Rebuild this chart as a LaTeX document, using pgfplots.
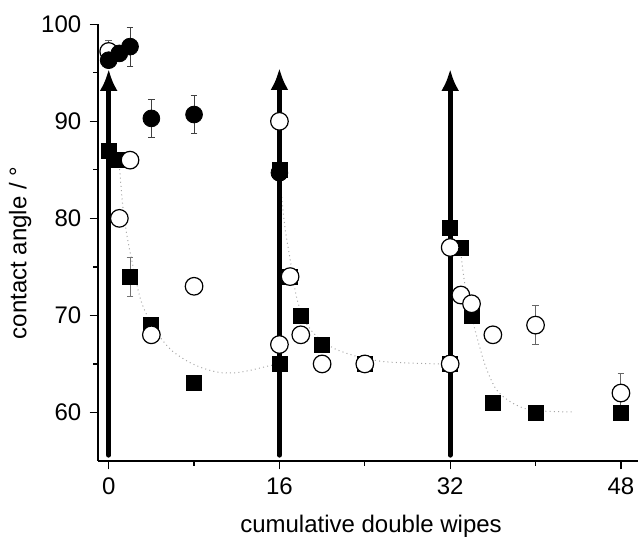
\documentclass[border=0pt]{standalone}
\usepackage{fontspec}
\setmainfont{Liberation Sans}
\usepackage{pgfplots}
\usepackage{pgfplotstable}
\pgfplotsset{compat=1.18}
\usetikzlibrary{arrows.meta}

\pgfplotstableread{
x y e
0 87 0
1 86 0
2 74 2
4 69 0
8 63 0
16 65 0
16 85 0
17 74 0
18 70 0
20 67 0
24 65 0
32 65 0
32 79 0
33 77 0
34 70 0
36 61 0
40 60 0
48 60 0
}\squares

\pgfplotstableread{
x y e
0 97.2 1.1
1 80 0
2 86 0
4 68 0
8 73 0
16 67 0
16 90 0
17 74 0
18 68 0
20 65 0
24 65 0
32 65 0
32 77 0
33 72.1 0
34 71.2 0
36 68 0
40 69 2
48 62 2
}\opencirc

\pgfplotstableread{
x y e
0 96.3 0
1 97.0 0
2 97.7 2
4 90.3 2
8 90.7 2
16 84.7 0
}\filledcirc

\begin{document}
\fontsize{12}{14.4}\selectfont
\begin{tikzpicture}
\begin{axis}[
  scale only axis,
  width=270pt, height=218.35pt,
  xmin=-1, xmax=49.6, ymin=55, ymax=100,
  axis x line*=bottom, axis y line*=left,
  axis line style={line width=0.65pt},
  tick align=outside,
  major tick length=4.2pt, minor tick length=2.3pt,
  every tick/.style={line width=0.65pt, black},
  xtick={0,16,32,48}, minor xtick={8,24,40},
  ytick={60,70,80,90,100}, minor ytick={65,75,85,95},
  /pgf/number format/assume math mode=true,
  tick label style={font=\fontsize{12}{14.4}\selectfont},
  label style={font=\fontsize{12}{14.4}\selectfont},
  xlabel={cumulative double wipes},
  ylabel={contact angle / °},
  every axis x label/.style={at={(rel axis cs:0.5056,-0.150)},anchor=center},
  every axis y label/.style={at={(rel axis cs:-0.144,0.476)},anchor=center,rotate=90},
  clip=false,
]
% fit curves
\addplot[gray!70, line width=0.5pt, dash pattern=on 0.5pt off 1.6pt, smooth] coordinates {
 (1,85.5) (1.3,81.5) (1.7,78.3) (2.2,75.5) (3,71.6) (4,69.1) (5,67.5) (6,66.3) (7.5,65.2) (9,64.5) (10.5,64.1) (12,64.1) (13.5,64.4) (15,64.8) (16,65)};
\addplot[gray!70, line width=0.5pt, dash pattern=on 0.5pt off 1.6pt, smooth] coordinates {
 (16.1,83.5) (16.5,79.2) (17,75.8) (17.6,71.9) (18.3,69.6) (19.1,68.3) (20,67.4) (21.3,66.5) (23.5,65.7) (25.7,65.25) (28,65.1) (31,65.0) (32,65)};
\addplot[gray!70, line width=0.5pt, dash pattern=on 0.5pt off 1.6pt, smooth] coordinates {
 (33.05,76) (33.4,73) (33.9,70.5) (34.4,68.2) (35.3,64.8) (36.3,62.4) (37.5,61.2) (39,60.4) (41,60.12) (43.5,60.05)};
% squares
\addplot[only marks, mark=square*, mark size=3.75pt, black,
  error bars/.cd, y dir=both, y explicit,
  error bar style={line width=0.5pt, black!55},
  error mark options={rotate=90, mark size=1.7pt, line width=0.5pt, black!55}]
  table[x=x, y=y, y error=e]{\squares};
% open circles
\addplot[only marks, mark=*, mark size=4.4pt, mark options={fill=white, draw=black, line width=0.6pt},
  error bars/.cd, y dir=both, y explicit,
  error bar style={line width=0.5pt, black!60},
  error mark options={rotate=90, mark size=1.7pt, line width=0.5pt, black!60}]
  table[x=x, y=y, y error=e]{\opencirc};
% filled circles
\addplot[only marks, mark=*, mark size=4.2pt, black,
  error bars/.cd, y dir=both, y explicit,
  error bar style={line width=0.5pt, black!75},
  error mark options={rotate=90, mark size=1.7pt, line width=0.5pt, black!75}]
  table[x=x, y=y, y error=e]{\filledcirc};
% arrows
\addplot[black, line width=2.5pt, line cap=round, -{Latex[length=11pt,width=9pt]}] coordinates {(0,55.6) (0,95.4)};
\addplot[black, line width=2.5pt, line cap=round, -{Latex[length=11pt,width=9pt]}] coordinates {(16,55.6) (16,95.5)};
\addplot[black, line width=2.5pt, line cap=round, -{Latex[length=11pt,width=9pt]}] coordinates {(32,55.6) (32,95.4)};
\coordinate (bbl) at (rel axis cs:-0.1815,-0.1763);
\coordinate (btr) at (rel axis cs:1.0037,1.0556);
\end{axis}
\pgfresetboundingbox
\path[use as bounding box] (bbl) rectangle (btr);
\end{tikzpicture}
\end{document}
